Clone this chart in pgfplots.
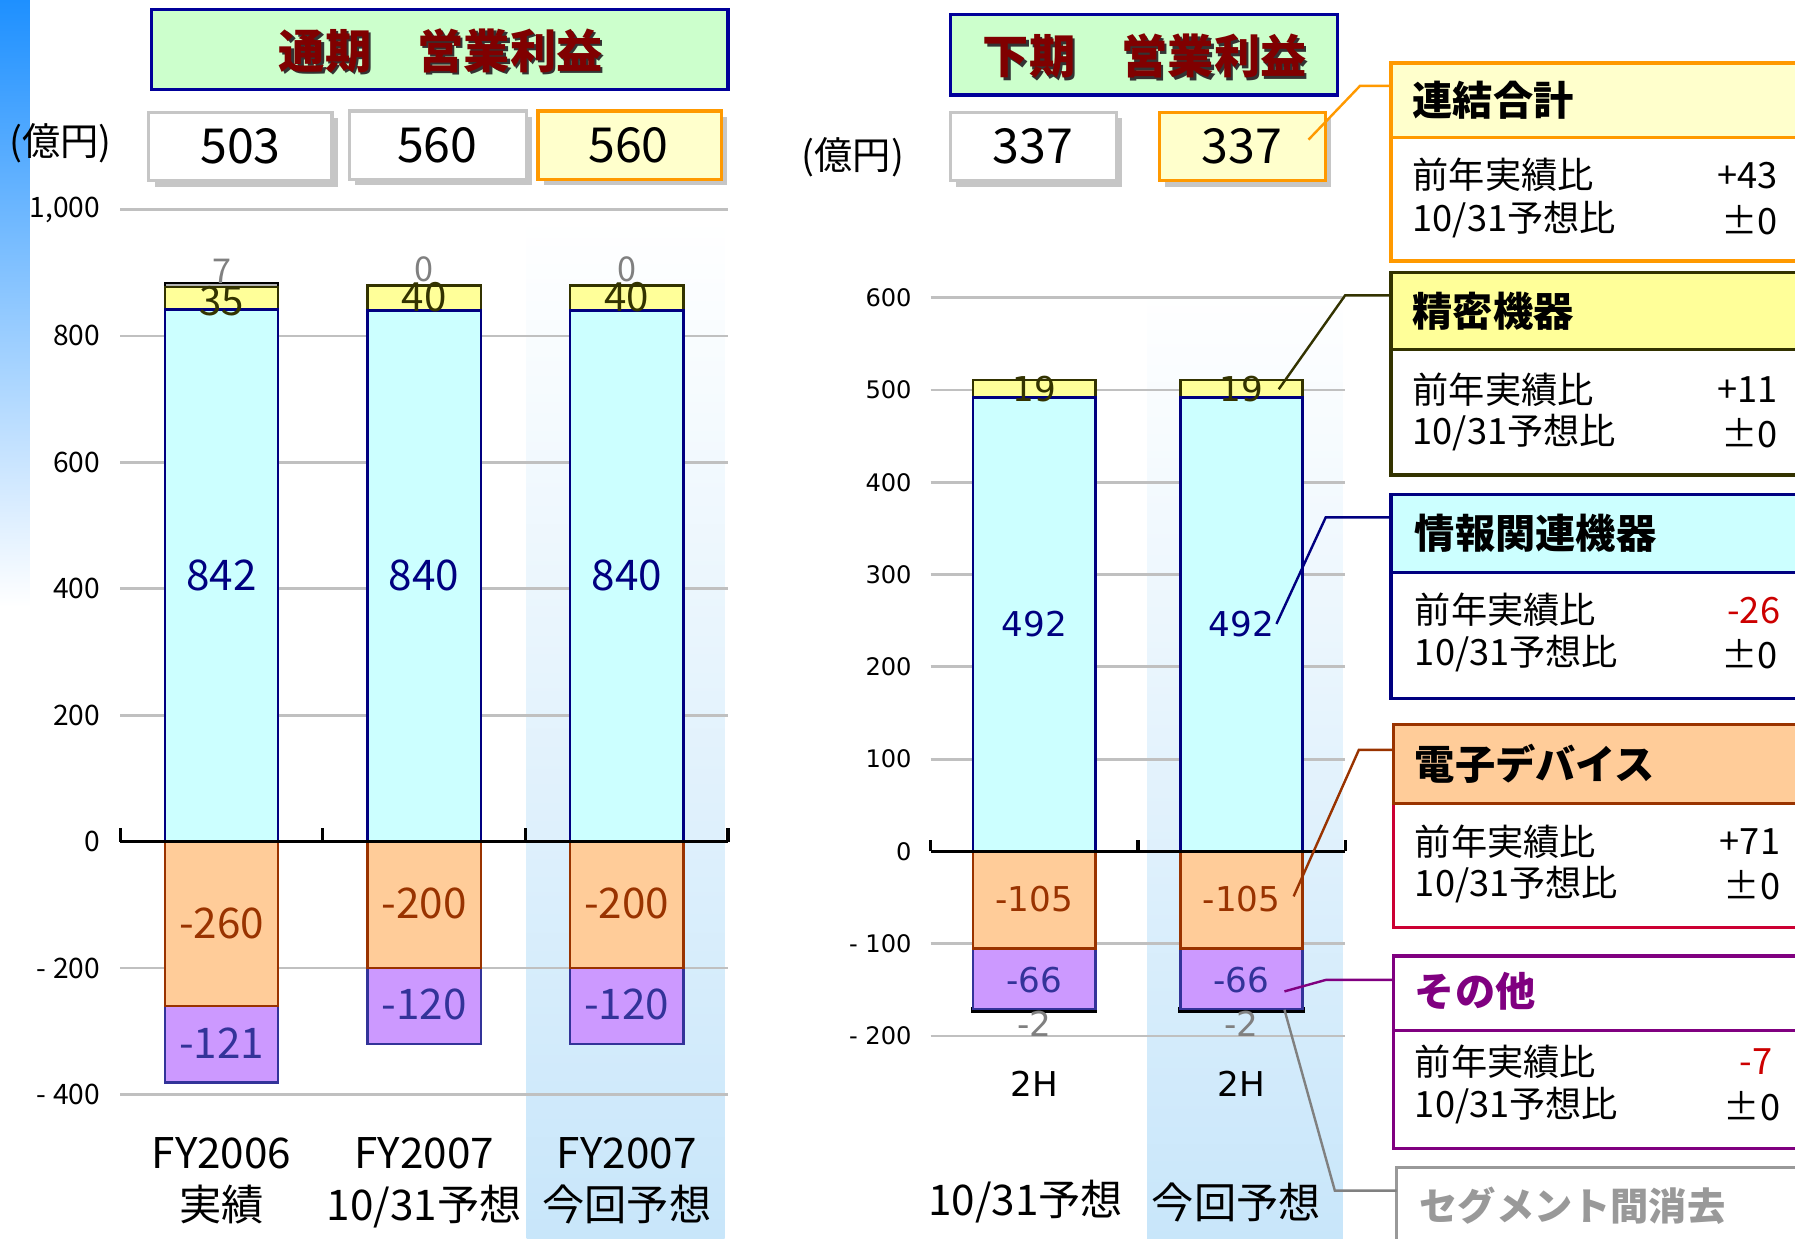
\documentclass[border=0pt]{standalone}
\usepackage{pgfplots}
\pgfplotsset{compat=1.18}
\usepackage{fontspec}
\setmainfont{Noto Sans CJK JP}
\newfontfamily\dejavu{DejaVu Sans}
\newcommand\fs[1]{\fontsize{#1}{#1}\selectfont}
\definecolor{cyanF}{HTML}{CCFFFF}
\definecolor{navyB}{HTML}{000080}
\definecolor{yelF}{HTML}{FFFF99}
\definecolor{oliveB}{HTML}{333300}
\definecolor{grayF}{HTML}{B2B2B2}
\definecolor{oraF}{HTML}{FFCC99}
\definecolor{brownB}{HTML}{993300}
\definecolor{purF}{HTML}{CC99FF}
\definecolor{purB}{HTML}{333399}
\definecolor{titleG}{HTML}{CCFFCC}
\definecolor{titleB}{HTML}{000099}
\definecolor{titleT}{HTML}{800000}
\definecolor{lightY}{HTML}{FFFFCC}
\definecolor{orangeB}{HTML}{FF9900}
\definecolor{hlB}{RGB}{200,230,250}
\definecolor{stripB}{RGB}{30,144,255}
\definecolor{crimsonB}{HTML}{CC0033}
\definecolor{otherP}{HTML}{800080}
\definecolor{redV}{HTML}{CC0000}
\definecolor{gridG}{RGB}{192,192,192}
\definecolor{segG}{HTML}{999999}
\pgfplotsset{
  Lgeom/.style={at={(10.5mm,-95.6mm)}, anchor=south west, scale only axis,
    width=53.1mm, height=77.3mm, xmin=-0.5, xmax=2.5, ymin=-400, ymax=1000,
    enlargelimits=false, ybar stacked, bar width=0.56,
    every axis plot/.append style={line width=0.6pt}},
  Rgeom/.style={at={(81.3mm,-90.5mm)}, anchor=south west, scale only axis,
    width=36.2mm, height=64.5mm, xmin=-0.5, xmax=1.5, ymin=-200, ymax=600,
    enlargelimits=false, ybar stacked, bar width=0.59,
    every axis plot/.append style={line width=0.6pt}},
}
\tikzset{t/.style={inner sep=0pt, outer sep=0pt}}
\begin{document}
\begin{tikzpicture}
\clip (0mm,0mm) rectangle (156.8mm,-108.2mm);
\begin{scope}[x=0.1mm,y=-0.1mm]
\fill[white] (0,0) rectangle (1568,1082);
\shade[top color=stripB, bottom color=white] (0,0) rectangle (26,530);
\shade[top color=white, bottom color=hlB] (460,190) rectangle (633,1082);
\shade[top color=white, bottom color=hlB] (1002,250) rectangle (1173,1082);

% ---- titles
\draw[titleB, line width=0.8pt, fill=titleG] (132,8) rectangle (636,78);
\node[t, text=black!80, font=\fs{11.5}\bfseries] at (387,46) {通期　営業利益};
\node[t, text=titleT, font=\fs{11.5}\bfseries] at (385,44) {通期　営業利益};
\draw[titleB, line width=0.8pt, fill=titleG] (830,13) rectangle (1168,83);
\node[t, text=black!80, font=\fs{11.5}\bfseries] at (1002,51) {下期　営業利益};
\node[t, text=titleT, font=\fs{11.5}\bfseries] at (1000,49) {下期　営業利益};

% ---- unit labels
\node[t, font=\fs{9.5}] at (53,125) {(億円)};
\node[t, font=\fs{9.5}] at (745,137) {(億円)};

% ---- value boxes
\fill[gray!45] (135,103) rectangle (295,163);
\draw[gray!45, line width=0.8pt, fill=white] (130,98) rectangle (290,158);
\node[t, font=\fs{12}] at (210,128) {503};
\fill[gray!45] (310,102) rectangle (465,162);
\draw[gray!45, line width=0.8pt, fill=white] (305,97) rectangle (460,157);
\node[t, font=\fs{12}] at (382,127) {560};
\fill[gray!45] (475,102) rectangle (635,162);
\draw[orangeB, line width=0.8pt, fill=lightY] (470,97) rectangle (630,157);
\node[t, font=\fs{12}] at (549,127) {560};
\fill[gray!45] (835,103) rectangle (980,163);
\draw[gray!45, line width=0.8pt, fill=white] (830,98) rectangle (975,158);
\node[t, font=\fs{12}] at (902,128) {337};
\fill[gray!45] (1018,103) rectangle (1163,163);
\draw[orangeB, line width=0.8pt, fill=lightY] (1013,98) rectangle (1158,158);
\node[t, font=\fs{12}] at (1085,128) {337};
\end{scope}

% ---- left chart: positive stack
\begin{axis}[Lgeom,
  axis line style={draw=none}, major tick length=0pt,
  ytick={-400,-200,...,1000},
  yticklabels={- 400,- 200,0,200,400,600,800,{1,000}},
  yticklabel style={font=\fs{7}, inner sep=0pt, xshift=-1.7mm},
  ymajorgrids, grid style={draw=gridG, line width=0.7pt},
  xtick={0,1,2},
  xticklabels={{FY2006\\実績},{FY2007\\10/31予想},{FY2007\\今回予想}},
  xticklabel style={font=\fontsize{10.5}{12.8}\selectfont, align=center, inner sep=0pt, yshift=-3.7mm},
]
\addplot[fill=cyanF, draw=navyB] coordinates {(0,842) (1,840) (2,840)};
\addplot[fill=yelF, draw=oliveB] coordinates {(0,35) (1,40) (2,40)};
\addplot[fill=grayF, draw=black] coordinates {(0,7) (1,0) (2,0)};
\end{axis}
% ---- left chart: negative stack
\begin{axis}[Lgeom, hide axis]
\addplot[fill=oraF, draw=brownB] coordinates {(0,-260) (1,-200) (2,-200)};
\addplot[fill=purF, draw=purB] coordinates {(0,-121) (1,-120) (2,-120)};
\end{axis}
% ---- left chart: axis line and labels
\begin{axis}[Lgeom, hide axis, clip=false]
\draw[black, line width=0.8pt] (axis cs:-0.5,0) -- (axis cs:2.5,0);
\draw[black, line width=0.8pt] (axis cs:-0.5,0) -- ++(0pt,1.2mm);
\draw[black, line width=0.8pt] (axis cs:0.5,0) -- ++(0pt,1.2mm);
\draw[black, line width=0.8pt] (axis cs:1.5,0) -- ++(0pt,1.2mm);
\draw[black, line width=0.8pt] (axis cs:2.5,0) -- ++(0pt,1.2mm);
\node[t, text=navyB, font=\fs{10.5}] at (axis cs:0,421) {842};
\node[t, text=navyB, font=\fs{10.5}] at (axis cs:1,421) {840};
\node[t, text=navyB, font=\fs{10.5}] at (axis cs:2,421) {840};
\node[t, text=oliveB, font=\fs{10}] at (axis cs:0,855) {35};
\node[t, text=oliveB, font=\fs{10}] at (axis cs:1,861) {40};
\node[t, text=oliveB, font=\fs{10}] at (axis cs:2,861) {40};
\node[t, text=gray, font=\fs{8.5}] at (axis cs:0,903) {7};
\node[t, text=gray, font=\fs{8.5}] at (axis cs:1,905) {0};
\node[t, text=gray, font=\fs{8.5}] at (axis cs:2,905) {0};
\node[t, text=brownB, font=\fs{10.5}] at (axis cs:0,-130) {-260};
\node[t, text=brownB, font=\fs{10.5}] at (axis cs:1,-98) {-200};
\node[t, text=brownB, font=\fs{10.5}] at (axis cs:2,-98) {-200};
\node[t, text=purB, font=\fs{10.5}] at (axis cs:0,-319) {-121};
\node[t, text=purB, font=\fs{10.5}] at (axis cs:1,-257) {-120};
\node[t, text=purB, font=\fs{10.5}] at (axis cs:2,-257) {-120};
\end{axis}

% ---- right chart: positive stack
\begin{axis}[Rgeom,
  axis line style={draw=none}, major tick length=0pt,
  ytick={-200,-100,...,600},
  yticklabels={- 200,- 100,0,100,200,300,400,500,600},
  yticklabel style={font=\dejavu\fs{6}, inner sep=0pt, xshift=-1.6mm},
  ymajorgrids, grid style={draw=gridG, line width=0.7pt},
  xtick={0,1}, xticklabels={2H,2H},
  xticklabel style={font=\dejavu\fs{8.5}, inner sep=0pt, yshift=-3.0mm},
]
\addplot[fill=cyanF, draw=navyB] coordinates {(0,492) (1,492)};
\addplot[fill=yelF, draw=oliveB] coordinates {(0,19) (1,19)};
\end{axis}
% ---- right chart: negative stack
\begin{axis}[Rgeom, hide axis]
\addplot[fill=oraF, draw=brownB] coordinates {(0,-105) (1,-105)};
\addplot[fill=purF, draw=purB] coordinates {(0,-66) (1,-66)};
\addplot[fill=grayF, draw=black, line width=1pt] coordinates {(0,-2) (1,-2)};
\end{axis}
% ---- right chart: axis line and labels
\begin{axis}[Rgeom, hide axis, clip=false]
\draw[black, line width=0.8pt] (axis cs:-0.5,0) -- (axis cs:1.5,0);
\draw[black, line width=0.8pt] (axis cs:-0.5,0) -- ++(0pt,1.0mm);
\draw[black, line width=0.8pt] (axis cs:0.5,0) -- ++(0pt,1.0mm);
\draw[black, line width=0.8pt] (axis cs:1.5,0) -- ++(0pt,1.0mm);
\node[t, text=navyB, font=\dejavu\fs{8.5}] at (axis cs:0,246) {492};
\node[t, text=navyB, font=\dejavu\fs{8.5}] at (axis cs:1,246) {492};
\node[t, text=oliveB, font=\dejavu\fs{8.5}] at (axis cs:0,501) {19};
\node[t, text=oliveB, font=\dejavu\fs{8.5}] at (axis cs:1,501) {19};
\node[t, text=brownB, font=\dejavu\fs{8.5}] at (axis cs:0,-52) {-105};
\node[t, text=brownB, font=\dejavu\fs{8.5}] at (axis cs:1,-52) {-105};
\node[t, text=purB, font=\dejavu\fs{8.5}] at (axis cs:0,-139) {-66};
\node[t, text=purB, font=\dejavu\fs{8.5}] at (axis cs:1,-139) {-66};
\node[t, text=gray, font=\dejavu\fs{8.5}] at (axis cs:0,-187) {-2};
\node[t, text=gray, font=\dejavu\fs{8.5}] at (axis cs:1,-187) {-2};
\end{axis}

\begin{scope}[x=0.1mm,y=-0.1mm]
\node[t, font=\fs{10.5}] at (896,1050) {10/31予想};
\node[t, font=\fs{10.5}] at (1080,1050) {今回予想};

% ---- legend boxes
\draw[orangeB, line width=0.8pt, fill=lightY] (1215,55) rectangle (1590,120);
\draw[orangeB, line width=0.8pt, fill=white] (1215,120) rectangle (1590,228);
\node[t, anchor=west, font=\fs{10}\bfseries] at (1234,88) {連結合計};
\node[t, anchor=west, font=\fs{9}] at (1234,153) {前年実績比};
\node[t, anchor=west, font=\fs{9}] at (1234,192) {10/31予想比};
\node[t, anchor=east, font=\fs{9}] at (1553,153) {+43};
\node[t, anchor=east, font=\fs{9}] at (1553,192) {±0};

\draw[oliveB, line width=0.8pt, fill=yelF] (1215,238) rectangle (1590,305);
\draw[oliveB, line width=0.8pt, fill=white] (1215,305) rectangle (1590,415);
\node[t, anchor=west, font=\fs{10}\bfseries] at (1234,272) {精密機器};
\node[t, anchor=west, font=\fs{9}] at (1234,340) {前年実績比};
\node[t, anchor=west, font=\fs{9}] at (1234,378) {10/31予想比};
\node[t, anchor=east, font=\fs{9}] at (1553,340) {+11};
\node[t, anchor=east, font=\fs{9}] at (1553,378) {±0};

\draw[navyB, line width=0.8pt, fill=cyanF] (1215,432) rectangle (1590,500);
\draw[navyB, line width=0.8pt, fill=white] (1215,500) rectangle (1590,610);
\node[t, anchor=west, font=\fs{10}\bfseries] at (1236,466) {情報関連機器};
\node[t, anchor=west, font=\fs{9}] at (1236,533) {前年実績比};
\node[t, anchor=west, font=\fs{9}] at (1236,571) {10/31予想比};
\node[t, anchor=east, font=\fs{9}, text=redV] at (1555,533) {-26};
\node[t, anchor=east, font=\fs{9}] at (1553,571) {±0};

\draw[crimsonB, line width=0.8pt, fill=white] (1217,702) rectangle (1590,810);
\draw[brownB, line width=0.8pt, fill=oraF] (1217,633) rectangle (1590,702);
\node[t, anchor=west, font=\fs{10}\bfseries] at (1236,667) {電子デバイス};
\node[t, anchor=west, font=\fs{9}] at (1236,735) {前年実績比};
\node[t, anchor=west, font=\fs{9}] at (1236,773) {10/31予想比};
\node[t, anchor=east, font=\fs{9}] at (1555,735) {+71};
\node[t, anchor=east, font=\fs{9}] at (1555,773) {±0};

\draw[otherP, line width=0.8pt, fill=white] (1217,835) rectangle (1590,900);
\draw[otherP, line width=0.8pt, fill=white] (1217,900) rectangle (1590,1003);
\node[t, anchor=west, font=\fs{10}\bfseries, text=otherP] at (1236,866) {その他};
\node[t, anchor=west, font=\fs{9}] at (1236,927) {前年実績比};
\node[t, anchor=west, font=\fs{9}] at (1236,966) {10/31予想比};
\node[t, anchor=east, font=\fs{9}, text=redV] at (1548,927) {-7};
\node[t, anchor=east, font=\fs{9}] at (1555,966) {±0};

\draw[segG, line width=0.8pt, fill=white] (1220,1020) rectangle (1590,1100);
\node[t, anchor=west, font=\fs{9.5}\bfseries, text=segG] at (1240,1053) {セグメント間消去};

% ---- connector lines
\draw[orangeB, line width=0.6pt] (1143,122) -- (1188,75) -- (1215,75);
\draw[oliveB, line width=0.6pt] (1117,340) -- (1175,258) -- (1215,258);
\draw[navyB, line width=0.6pt] (1115,545) -- (1158,452) -- (1215,452);
\draw[brownB, line width=0.6pt] (1130,783) -- (1187,655) -- (1217,655);
\draw[otherP, line width=0.6pt] (1122,866) -- (1158,856) -- (1217,856);
\draw[gray, line width=0.6pt] (1122,882) -- (1166,1040) -- (1220,1040);
\end{scope}
\end{tikzpicture}
\end{document}
